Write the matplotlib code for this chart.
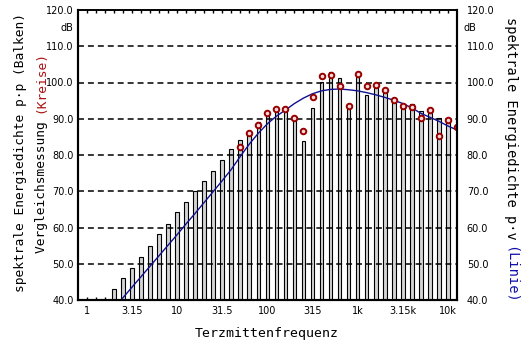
import matplotlib
matplotlib.use("Agg")
import matplotlib.pyplot as plt
import numpy as np

# ---- data ----
band_labels = ["1", "3.15", "10", "31.5", "100", "315", "1k", "3.15k", "10k"]
label_idx = [0, 5, 10, 15, 20, 25, 30, 35, 40]

bar_idx = list(range(3, 41))
bar_vals = [43.0, 46.2, 48.9, 52.0, 54.9, 58.1, 61.0, 64.2, 67.0, 70.1,
            72.8, 75.7, 78.6, 81.7, 84.1, 86.7, 89.2, 91.7, 92.6, 92.5,
            90.4, 84.0, 93.1, 100.1, 103.0, 101.2, 92.6, 101.4, 96.6, 99.8,
            97.3, 95.4, 94.0, 94.0, 92.2, 91.5, 90.1, 89.8]

circ_idx = list(range(17, 42))
circ_vals = [82.1, 86.0, 88.3, 91.5, 92.6, 92.6, 90.3, 86.6, 95.9, 101.8,
             102.1, 99.0, 93.5, 102.3, 99.1, 99.3, 97.8, 95.3, 93.5, 93.3,
             90.3, 92.4, 85.2, 89.7, 87.6]

line_idx = [3.8, 5, 6, 7, 8, 9, 10, 11, 12, 13, 14, 15, 16, 17, 18, 19, 20,
            21, 22, 23, 24, 25, 26, 27, 28, 29, 30, 31, 32, 33, 34, 35, 36,
            37, 38, 39, 40, 41]
line_vals = [40.0, 43.5, 46.4, 49.3, 52.2, 55.1, 58.0, 61.0, 63.9, 66.9,
             69.9, 72.9, 76.0, 79.6, 83.0, 86.0, 88.6, 90.7, 92.4, 94.2,
             95.7, 96.9, 97.7, 98.1, 98.2, 98.0, 97.7, 97.2, 96.6, 95.9,
             95.1, 94.2, 93.0, 91.5, 90.4, 89.3, 88.0, 86.9]

yticks = [40, 50, 60, 70, 80, 90, 100, 110, 120]

W, H = 523, 343
fig = plt.figure(figsize=(W / 100, H / 100), dpi=100)
ax = fig.add_axes([77.7 / W, 1 - 300 / H, (457 - 77.7) / W, (300 - 10) / H])

BASE = 40
ax.bar(bar_idx, [v - BASE for v in bar_vals], bottom=BASE, width=0.4,
       facecolor="#d4d4d4", edgecolor="black", linewidth=0.8, zorder=2)

for y in yticks[1:-1]:
    ax.axhline(y, color="black", lw=1.1, ls=(0, (3.9, 2.6)), zorder=2.6)

ax.plot(line_idx, line_vals, color="#101090", lw=1.0, zorder=3)
ax.plot(circ_idx, circ_vals, ls="none", marker="o", ms=4.0,
        mfc="#f3dada", mec="#990000", mew=1.4, zorder=4, clip_on=True)

ax.set_xlim(-1.0, 41.0)
ax.set_ylim(40, 120)

ax.set_xticks(label_idx)
ax.set_xticklabels(band_labels)
ax.set_xticks(range(0, 41), minor=True)
ax.tick_params(axis="x", which="both", direction="in", length=2.5, width=1,
               top=True, bottom=True, pad=4, labelsize=7)

ax.set_yticks(yticks)
ax.set_yticklabels([f"{v:.1f}" for v in yticks])
ax.tick_params(axis="y", which="both", length=0, left=True, right=False,
               labelleft=True, labelright=False, labelsize=7, pad=3)

axr = ax.twinx()
axr.set_ylim(40, 120)
axr.set_yticks(yticks)
axr.set_yticklabels([f"{v:.1f}" for v in yticks])
axr.tick_params(axis="y", length=0, labelsize=7, pad=7)

for a in (ax, axr):
    for s in a.spines.values():
        s.set_linewidth(1.5)
    a.spines["top"].set_linewidth(1.2)

# dB units
fig.text(66.7 / W, 1 - 28 / H, "dB", fontsize=7, ha="center", va="center")
fig.text(470 / W, 1 - 28 / H, "dB", fontsize=7, ha="center", va="center")

MONO = "DejaVu Sans Mono"


def cw(fs):
    return 0.602 * fs * 100 / 72


# left axis labels
fs1 = 9.3
fig.text(21 / W, 1 - 152 / H, "spektrale Energiedichte p\u00b7p (Balken)",
         family=MONO, fontsize=fs1, rotation=90, ha="center", va="center",
         rotation_mode="anchor")

p1, p2 = "Vergleichsmessung ", "(Kreise)"
L = (len(p1) + len(p2)) * cw(fs1)
ystart = 152 + L / 2
fig.text(41 / W, 1 - ystart / H, p1, family=MONO, fontsize=fs1, rotation=90,
         ha="left", va="center", rotation_mode="anchor")
fig.text(41 / W, 1 - (ystart - len(p1) * cw(fs1)) / H, p2, family=MONO,
         fontsize=fs1, rotation=90, ha="left", va="center",
         rotation_mode="anchor", color="#aa1111")

# right axis label
fs2 = 9.8
q1, q2 = "spektrale Energiedichte p\u00b7v ", "(Linie)"
L2 = (len(q1) + len(q2)) * cw(fs2)
ytop = 160 - L2 / 2
fig.text(511 / W, 1 - ytop / H, q1, family=MONO, fontsize=fs2, rotation=-90,
         ha="left", va="center", rotation_mode="anchor")
fig.text(511 / W, 1 - (ytop + len(q1) * cw(fs2)) / H, q2, family=MONO,
         fontsize=fs2, rotation=-90, ha="left", va="center",
         rotation_mode="anchor", color="#1111aa")

# x label
fig.text(267 / W, 1 - 333 / H, "Terzmittenfrequenz", family=MONO,
         fontsize=9.5, ha="center", va="center")

fig.savefig("out.png", dpi=100)
